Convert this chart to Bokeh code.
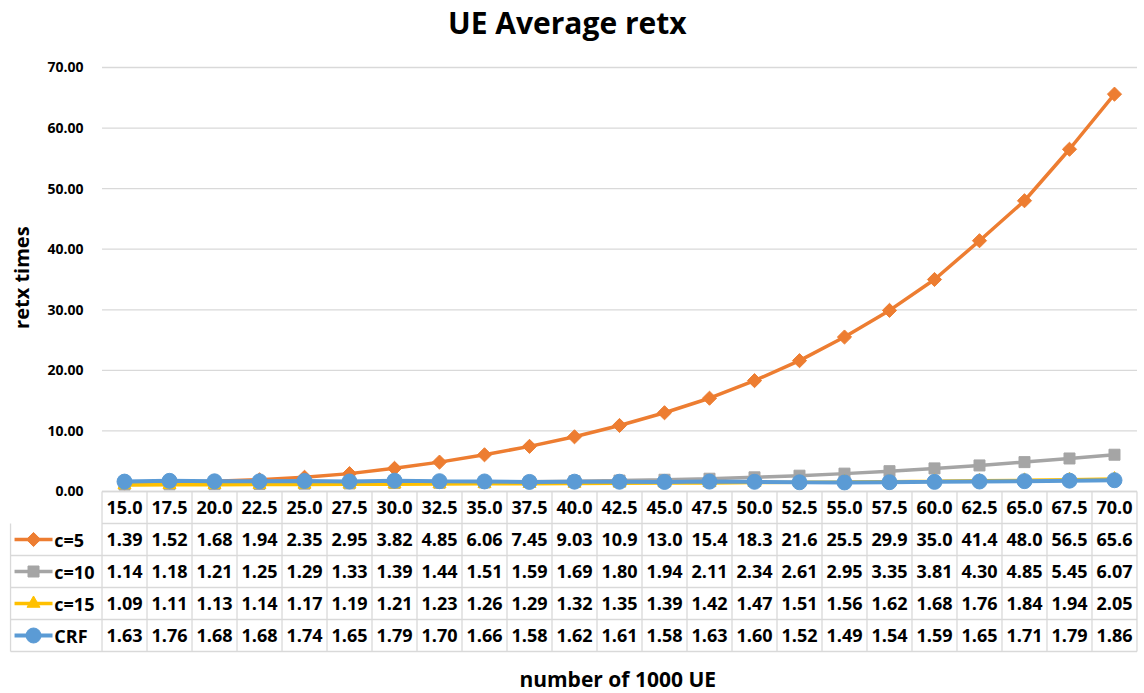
from bokeh.plotting import figure
from bokeh.models import Range1d
from bokeh.core.properties import value
from bokeh.embed import file_html
from bokeh.resources import INLINE

# ---------------- data ----------------
categories = [15.0, 17.5, 20.0, 22.5, 25.0, 27.5, 30.0, 32.5, 35.0, 37.5, 40.0, 42.5,
              45.0, 47.5, 50.0, 52.5, 55.0, 57.5, 60.0, 62.5, 65.0, 67.5, 70.0]
c5 = [1.39, 1.52, 1.68, 1.94, 2.35, 2.95, 3.82, 4.85, 6.06, 7.45, 9.03, 10.9,
      13.0, 15.4, 18.3, 21.6, 25.5, 29.9, 35.0, 41.4, 48.0, 56.5, 65.6]
c10 = [1.14, 1.18, 1.21, 1.25, 1.29, 1.33, 1.39, 1.44, 1.51, 1.59, 1.69, 1.80,
       1.94, 2.11, 2.34, 2.61, 2.95, 3.35, 3.81, 4.30, 4.85, 5.45, 6.07]
c15 = [1.09, 1.11, 1.13, 1.14, 1.17, 1.19, 1.21, 1.23, 1.26, 1.29, 1.32, 1.35,
       1.39, 1.42, 1.47, 1.51, 1.56, 1.62, 1.68, 1.76, 1.84, 1.94, 2.05]
crf = [1.63, 1.76, 1.68, 1.68, 1.74, 1.65, 1.79, 1.70, 1.66, 1.58, 1.62, 1.61,
       1.58, 1.63, 1.60, 1.52, 1.49, 1.54, 1.59, 1.65, 1.71, 1.79, 1.86]
series_names = ["c=5", "c=10", "c=15", "CRF"]
series_values = [c5, c10, c15, crf]
y_ticks = [0, 10, 20, 30, 40, 50, 60, 70]
title_text = "UE Average retx"
y_label = "retx times"
x_label = "number of 1000 UE"

# ---------------- styles ----------------
colors = ["#ED7D31", "#A5A5A5", "#FFC000", "#5B9BD5"]
markers = ["square", "square", "triangle", "circle"]
mangles = [0.7854, 0.0, 0.0, 0.0]
msizes = [10, 11, 13, 15]
lwidths = [3.5, 3.5, 3.5, 4]
FONT = value("Open Sans")
BORDER = "#D9D9D9"
GRID = "#D9D9D9"

W, H = 1144, 693
n = len(categories)
xs = list(range(n))

p = figure(width=W, height=H, output_backend="svg", toolbar_location=None,
           x_axis_location=None, y_axis_location=None,
           x_range=Range1d(-2.756, 22.667), y_range=Range1d(-33.35, 81.06),
           min_border=0, tools="")
p.grid.visible = False
p.outline_line_color = None
p.background_fill_color = "white"
p.border_fill_color = "white"
p.extra_y_ranges = {"tbl": Range1d(-6.3125, 15.344)}

left_edge = -0.5
right_edge = n - 0.5
legend_left = -2.533

# gridlines
p.segment(x0=[left_edge] * len(y_ticks), x1=[right_edge] * len(y_ticks),
          y0=y_ticks, y1=y_ticks, line_color=GRID, line_width=1.3)
# y tick labels
p.text(x=[-0.91] * len(y_ticks), y=y_ticks, text=[f"{t:.2f}" for t in y_ticks],
       text_font=FONT, text_font_style="bold", text_font_size="14px",
       text_align="right", text_baseline="middle", text_color="#000000")

# series
for vals, col, mk, ma, ms, lw in zip(series_values, colors, markers, mangles, msizes, lwidths):
    p.line(xs, vals, line_color=col, line_width=lw)
    p.scatter(xs, vals, marker=mk, angle=ma, size=ms, fill_color=col, line_color=col)

# ---------------- data table ----------------
nrows = len(series_names)
hx0 = [left_edge] + [legend_left] * nrows
hx1 = [right_edge] * (nrows + 1)
hy = [-1 - k for k in range(nrows + 1)]
p.segment(x0=hx0, x1=hx1, y0=hy, y1=hy, line_color=BORDER, line_width=1.3,
          y_range_name="tbl")
p.segment(x0=[left_edge], x1=[right_edge], y0=[0], y1=[0], line_color=BORDER,
          line_width=1.3, y_range_name="tbl")
vx = [left_edge + k for k in range(n + 1)]
p.segment(x0=vx, x1=vx, y0=[0] * len(vx), y1=[-1 - nrows] * len(vx),
          line_color=BORDER, line_width=1.3, y_range_name="tbl")
p.segment(x0=[legend_left], x1=[legend_left], y0=[-1], y1=[-1 - nrows],
          line_color=BORDER, line_width=1.3, y_range_name="tbl")

# header row
p.text(x=xs, y=[-0.5] * n, text=[f"{c:.1f}" for c in categories],
       text_font=FONT, text_font_style="bold", text_font_size="18px",
       text_align="center", text_baseline="middle", text_color="#000000",
       y_range_name="tbl")

for r, (name, vals, col, mk, ma, ms, lw) in enumerate(zip(series_names, series_values,
                                                          colors, markers, mangles,
                                                          msizes, lwidths)):
    yc = -1.5 - r
    p.text(x=xs, y=[yc] * n, text=[f"{v:#.3g}" for v in vals],
           text_font=FONT, text_font_style="bold", text_font_size="18px",
           text_align="center", text_baseline="middle", text_color="#000000",
           y_range_name="tbl")
    p.line([-2.444, -1.6], [yc, yc], line_color=col, line_width=lw, y_range_name="tbl")
    p.scatter([-2.022], [yc], marker=mk, angle=ma, size=ms, fill_color=col,
              line_color=col, y_range_name="tbl")
    p.text(x=[-1.56], y=[yc], text=[name], text_font=FONT, text_font_style="bold",
           text_font_size="18px", text_align="left", text_baseline="middle",
           text_color="#000000", y_range_name="tbl")

# titles
p.text(x=[9.84], y=[77.4], text=[title_text], text_font=FONT, text_font_style="bold",
       text_font_size="30px", text_align="center", text_baseline="middle",
       text_color="#000000")
p.text(x=[-2.289], y=[35.3], text=[y_label], text_font=FONT, text_font_style="bold",
       text_font_size="20px", text_align="center", text_baseline="middle",
       angle=1.5708, text_color="#000000")
p.text(x=[10.96], y=[-30.9], text=[x_label], text_font=FONT, text_font_style="bold",
       text_font_size="21px", text_align="center", text_baseline="middle",
       text_color="#000000")

open("out.html", "w").write(file_html(p, INLINE))
